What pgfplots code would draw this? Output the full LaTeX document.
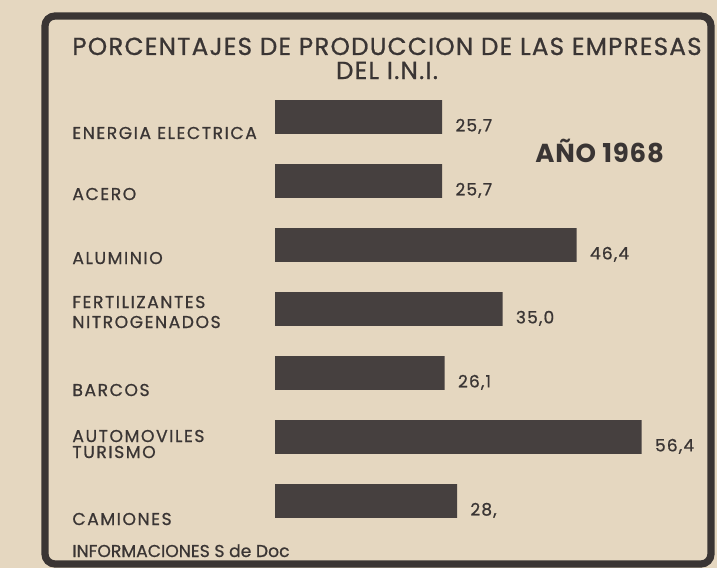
\documentclass[border=0pt]{standalone}
\usepackage{pgfplots}
\pgfplotsset{compat=1.18}
\usepackage{fontspec}
\setmainfont{Poppins}
\definecolor{paper}{RGB}{229,215,192}
\definecolor{ink}{RGB}{58,53,52}
\definecolor{barink}{RGB}{70,64,63}
\newcommand{\pxc}[2]{(rel axis cs:#1/717,1-#2/568)}
\begin{document}
\begin{tikzpicture}
\begin{axis}[
  set layers,
  scale only axis,
  width=358.5pt, height=284pt,
  hide axis,
  clip=false,
  xmin=-42.31, xmax=68.0,
  ymin=-1.047, ymax=7.828,
  xbar, bar width=0.53,
  point meta=explicit symbolic,
  nodes near coords={\pgfplotspointmeta},
  nodes near coords style={anchor=base west, inner sep=0pt, xshift=6.5pt, yshift=-7.2pt,
     font=\fontsize{8.5}{9}\selectfont\addfontfeature{LetterSpace=7,FakeBold=0.8}, text=ink},
]
\begin{pgfonlayer}{axis background}
\fill[paper] (rel axis cs:0,0) rectangle (rel axis cs:1,1);
\end{pgfonlayer}
\addplot[fill=barink, draw=none] coordinates {
 (25.7,6) [25,7]
 (25.7,5) [25,7]
 (46.4,4) [46,4]
 (35.0,3) [35,0]
 (26.1,2) [26,1]
 (56.4,1) [56,4]
 (28.0,0) [28,]
};
\draw[ink, line width=3.6pt, rounded corners=5pt] \pxc{45}{564} -- \pxc{45}{16} -- \pxc{711}{16} -- \pxc{711}{564} -- cycle;
\node[anchor=base, inner sep=0pt, text=ink, font=\fontsize{12.3}{14}\selectfont\addfontfeature{LetterSpace=5,FakeBold=0.8}] at \pxc{387}{55} {PORCENTAJES DE PRODUCCION DE LAS EMPRESAS};
\node[anchor=base, inner sep=0pt, text=ink, font=\fontsize{12.3}{14}\selectfont\addfontfeature{LetterSpace=5,FakeBold=0.8}] at \pxc{387}{79} {DEL I.N.I.};
\node[anchor=base west, inner sep=0pt, text=ink, font=\fontsize{13}{15}\bfseries\selectfont\addfontfeature{LetterSpace=3}] at \pxc{535}{163} {AÑO 1968};
\tikzset{lab/.style={anchor=base west, inner sep=0pt, text=ink, font=\fontsize{8.6}{10}\selectfont\addfontfeature{LetterSpace=9,FakeBold=0.8}}}
\node[lab] at \pxc{72}{139} {ENERGIA ELECTRICA};
\node[lab] at \pxc{72}{200} {ACERO};
\node[lab] at \pxc{72}{264} {ALUMINIO};
\node[lab] at \pxc{72}{308} {FERTILIZANTES};
\node[lab] at \pxc{72}{328} {NITROGENADOS};
\node[lab] at \pxc{72}{396} {BARCOS};
\node[lab] at \pxc{72}{442} {AUTOMOVILES};
\node[lab] at \pxc{72}{458} {TURISMO};
\node[lab] at \pxc{72}{525} {CAMIONES};
\node[anchor=base west, inner sep=0pt, text=ink, font=\fontsize{8.6}{10}\selectfont\addfontfeature{FakeBold=0.8}] at \pxc{72}{557} {INFORMACIONES S de Doc};
\end{axis}
\end{tikzpicture}
\end{document}
